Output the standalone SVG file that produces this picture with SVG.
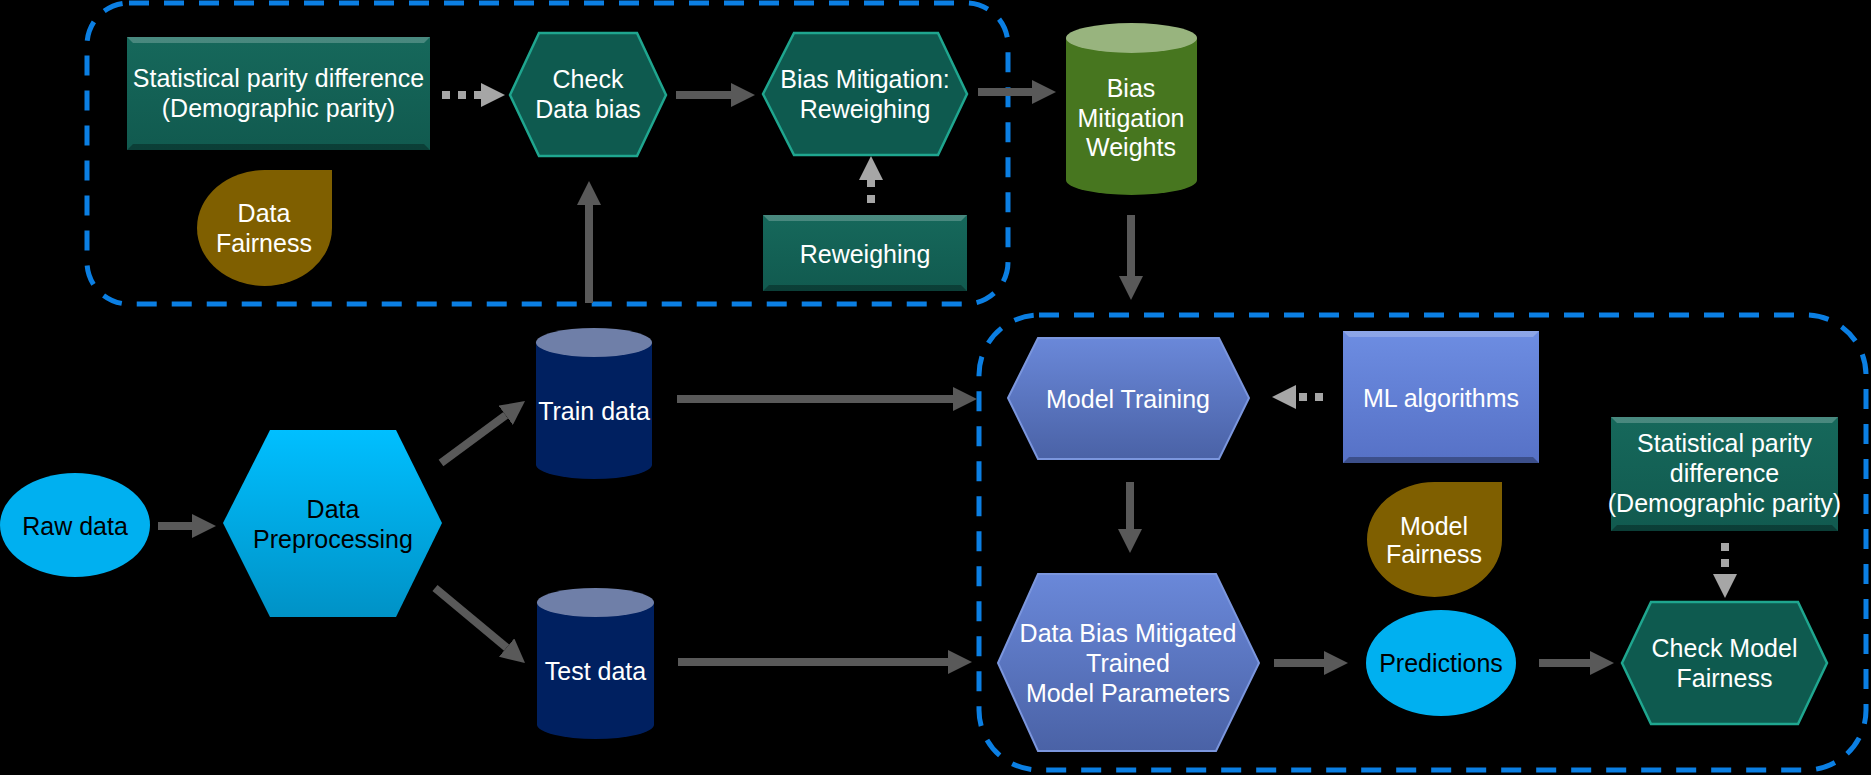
<svg xmlns="http://www.w3.org/2000/svg" width="1871" height="775" viewBox="0 0 1871 775">
<defs>
<style>
.t{font-family:"Liberation Sans",Arial,sans-serif;font-size:25px;text-anchor:middle;fill:#ffffff}
.tb{font-family:"Liberation Sans",Arial,sans-serif;font-size:25px;text-anchor:middle;fill:#000000}
.box{fill:none;stroke:#0B7FE3;stroke-width:5;stroke-dasharray:20 15}
.arr{stroke:#595959;stroke-width:8;fill:none}
.dot{stroke:#A6A6A6;stroke-width:8;fill:none;stroke-dasharray:8 8}
.tealhex{fill:#0E5A4F;stroke:#1FA68F;stroke-width:2.5}
.tealrect{fill:url(#gTeal)}
.bluehex{fill:url(#gBlue);stroke:#7B96DD;stroke-width:2}
.hi{fill:#ffffff;opacity:0.22}
.lo{fill:#000000;opacity:0.3}
.brown{fill:#7F5F00}
.cyan{fill:#00B0F0}
</style>
<linearGradient id="gTeal" x1="0" y1="0" x2="0" y2="1">
<stop offset="0" stop-color="#16685B"/><stop offset="1" stop-color="#115A4F"/>
</linearGradient>
<linearGradient id="gBlue" x1="0" y1="0" x2="0" y2="1">
<stop offset="0" stop-color="#6A88D9"/><stop offset="1" stop-color="#4A62A6"/>
</linearGradient>
<linearGradient id="gBlueRect" x1="0" y1="0" x2="0" y2="1">
<stop offset="0" stop-color="#6D8DE2"/><stop offset="1" stop-color="#5671C6"/>
</linearGradient>
<linearGradient id="gCyan" x1="0" y1="0" x2="0" y2="1">
<stop offset="0" stop-color="#00BFFF"/><stop offset="1" stop-color="#0092C6"/>
</linearGradient>
<marker id="ah" viewBox="0 0 24 24" refX="0" refY="12" markerWidth="24" markerHeight="24" markerUnits="userSpaceOnUse" orient="auto">
<path d="M0,0 L24,12 L0,24 Z" fill="#595959"/>
</marker>
<marker id="ahL" viewBox="0 0 24 24" refX="0" refY="12" markerWidth="24" markerHeight="24" markerUnits="userSpaceOnUse" orient="auto">
<path d="M0,0 L24,12 L0,24 Z" fill="#A6A6A6"/>
</marker>
</defs>
<rect width="1871" height="775" fill="#000000"/>

<g id="groups">
<rect class="box" x="87" y="3" width="921" height="301" rx="42"/>
<rect class="box" x="979" y="315" width="887" height="455" rx="60"/>
</g>

<g id="connectors">
<line class="dot" x1="442" y1="95" x2="481" y2="95" marker-end="url(#ahL)"/>
<line class="arr" x1="676" y1="95" x2="731" y2="95" marker-end="url(#ah)"/>
<line class="dot" x1="871" y1="203" x2="871" y2="180" stroke-dasharray="7 4" marker-end="url(#ahL)"/>
<line class="arr" x1="978" y1="92" x2="1032" y2="92" marker-end="url(#ah)"/>
<line class="arr" x1="1131" y1="215" x2="1131" y2="276" marker-end="url(#ah)"/>
<line class="arr" x1="589" y1="303" x2="589" y2="205" marker-end="url(#ah)"/>
<line class="arr" x1="158" y1="526" x2="192" y2="526" marker-end="url(#ah)"/>
<line class="arr" x1="441" y1="463" x2="505.7" y2="415.3" marker-end="url(#ah)"/>
<line class="arr" x1="435" y1="588" x2="506.6" y2="647.6" marker-end="url(#ah)"/>
<line class="arr" x1="677" y1="399" x2="953" y2="399" marker-end="url(#ah)"/>
<line class="arr" x1="678" y1="662" x2="948" y2="662" marker-end="url(#ah)"/>
<line class="dot" x1="1323" y1="397" x2="1296" y2="397" stroke-dasharray="9 5" marker-end="url(#ahL)"/>
<line class="arr" x1="1130" y1="482" x2="1130" y2="529" marker-end="url(#ah)"/>
<line class="arr" x1="1274" y1="663" x2="1324" y2="663" marker-end="url(#ah)"/>
<line class="arr" x1="1539" y1="663" x2="1590" y2="663" marker-end="url(#ah)"/>
<line class="dot" x1="1725" y1="543" x2="1725" y2="574" stroke-dasharray="9 6" marker-end="url(#ahL)"/>
</g>

<g id="stat-parity-top">
<rect class="tealrect" x="127" y="37" width="303" height="113"/>
<polygon class="hi" points="127,37 430,37 424,43 133,43"/>
<polygon class="lo" points="127,150 430,150 424,144 133,144"/>
<text class="t" x="278.5" y="87">Statistical parity difference</text>
<text class="t" x="278.5" y="117">(Demographic parity)</text>
</g>

<g id="check-data-bias">
<polygon class="tealhex" points="510,95 539,33 637,33 666,95 637,156 539,156"/>
<text class="t" x="588" y="88">Check</text>
<text class="t" x="588" y="118">Data bias</text>
</g>

<g id="bias-mitigation">
<polygon class="tealhex" points="763,94 794,33 938,33 967,94 938,155 794,155"/>
<text class="t" x="865" y="88">Bias Mitigation:</text>
<text class="t" x="865" y="118">Reweighing</text>
</g>

<g id="reweighing">
<rect class="tealrect" x="763" y="215" width="204" height="76"/>
<polygon class="hi" points="763,215 967,215 961,221 769,221"/>
<polygon class="lo" points="763,291 967,291 961,285 769,285"/>
<text class="t" x="865" y="263">Reweighing</text>
</g>

<g id="data-fairness">
<path class="brown" d="M264.5,170 H332 V228 A67.5,58 0 1,1 264.5,170 Z"/>
<text class="t" x="264" y="222">Data</text>
<text class="t" x="264" y="252">Fairness</text>
</g>

<g id="bias-weights">
<path d="M1066,38 V180 A65.5,15 0 0,0 1197,180 V38 Z" fill="#47761F"/>
<ellipse cx="1131.5" cy="38" rx="65.5" ry="15" fill="#98B47E"/>
<text class="t" x="1131" y="97">Bias</text>
<text class="t" x="1131" y="127">Mitigation</text>
<text class="t" x="1131" y="156">Weights</text>
</g>

<g id="raw-data">
<ellipse class="cyan" cx="75" cy="525" rx="75" ry="52"/>
<text class="tb" x="75" y="535">Raw data</text>
</g>

<g id="data-preprocessing">
<polygon points="223,523 270,430 396,430 442,523 396,617 270,617" fill="url(#gCyan)"/>
<text class="tb" x="333" y="518">Data</text>
<text class="tb" x="333" y="548">Preprocessing</text>
</g>

<g id="train-data">
<path d="M536,342.5 V464.5 A58,14.5 0 0,0 652,464.5 V342.5 Z" fill="#002060"/>
<ellipse cx="594" cy="342.5" rx="58" ry="14.5" fill="#6F7FA8"/>
<text class="t" x="594" y="420">Train data</text>
</g>

<g id="test-data">
<path d="M537,602.5 V724.5 A58.5,14.5 0 0,0 654,724.5 V602.5 Z" fill="#002060"/>
<ellipse cx="595.5" cy="602.5" rx="58.5" ry="14.5" fill="#6F7FA8"/>
<text class="t" x="595.5" y="680">Test data</text>
</g>

<g id="model-training">
<polygon class="bluehex" points="1008,398 1038,338 1219,338 1249,398 1219,459 1038,459"/>
<text class="t" x="1128" y="408">Model Training</text>
</g>

<g id="ml-algorithms">
<rect x="1343" y="331" width="196" height="132" fill="url(#gBlueRect)"/>
<polygon class="hi" points="1343,331 1539,331 1533,337 1349,337"/>
<polygon class="lo" points="1343,463 1539,463 1533,457 1349,457"/>
<text class="t" x="1441" y="407">ML algorithms</text>
</g>

<g id="model-fairness">
<path class="brown" d="M1434.5,482 H1502 V539.5 A67.5,57.5 0 1,1 1434.5,482 Z"/>
<text class="t" x="1434" y="535">Model</text>
<text class="t" x="1434" y="563">Fairness</text>
</g>

<g id="stat-parity-right">
<rect class="tealrect" x="1611" y="417" width="227" height="114"/>
<polygon class="hi" points="1611,417 1838,417 1832,423 1617,423"/>
<polygon class="lo" points="1611,531 1838,531 1832,525 1617,525"/>
<text class="t" x="1724.5" y="452">Statistical parity</text>
<text class="t" x="1724.5" y="482">difference</text>
<text class="t" x="1724.5" y="512">(Demographic parity)</text>
</g>

<g id="trained-model">
<polygon class="bluehex" points="998,663 1038,574 1216,574 1259,663 1216,751 1038,751"/>
<text class="t" x="1128" y="642">Data Bias Mitigated</text>
<text class="t" x="1128" y="672">Trained</text>
<text class="t" x="1128" y="702">Model Parameters</text>
</g>

<g id="predictions">
<ellipse class="cyan" cx="1441" cy="663" rx="75" ry="53"/>
<text class="tb" x="1441" y="672">Predictions</text>
</g>

<g id="check-model-fairness">
<polygon class="tealhex" points="1622,663 1651,602 1798,602 1827,663 1798,724 1651,724"/>
<text class="t" x="1724.5" y="657">Check Model</text>
<text class="t" x="1724.5" y="687">Fairness</text>
</g>
</svg>
